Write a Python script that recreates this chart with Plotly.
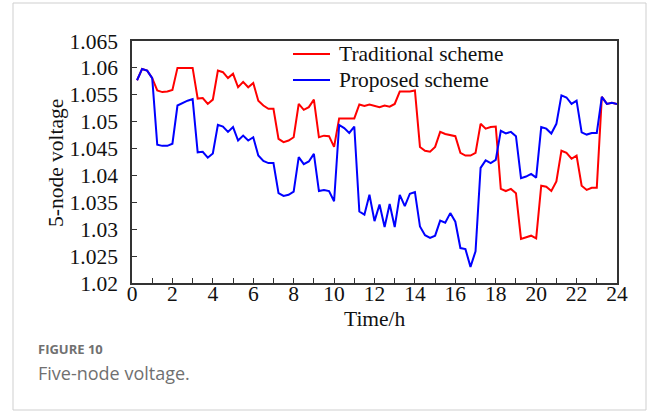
import plotly.graph_objects as go

time_h = [0.25 * (i + 1) for i in range(96)]

traditional = [
    1.0577, 1.0598, 1.0595, 1.0581, 1.0558, 1.0555, 1.0556, 1.0559,
    1.0600, 1.0600, 1.0600, 1.0600, 1.0543, 1.0544, 1.0533, 1.0541,
    1.0595, 1.0592, 1.0581, 1.0589, 1.0564, 1.0574, 1.0564, 1.0572,
    1.0539, 1.0530, 1.0524, 1.0524, 1.0468, 1.0462, 1.0465, 1.0471,
    1.0533, 1.0522, 1.0527, 1.0541, 1.0471, 1.0474, 1.0473, 1.0453,
    1.0506, 1.0506, 1.0507, 1.0506, 1.0532, 1.0529, 1.0532, 1.0529,
    1.0527, 1.0530, 1.0528, 1.0533, 1.0556, 1.0556, 1.0556, 1.0558,
    1.0453, 1.0446, 1.0444, 1.0453, 1.0481, 1.0477, 1.0475, 1.0473,
    1.0442, 1.0437, 1.0437, 1.0442, 1.0496, 1.0487, 1.0490, 1.0491,
    1.0375, 1.0371, 1.0375, 1.0367, 1.0282, 1.0285, 1.0288, 1.0283,
    1.0381, 1.0379, 1.0371, 1.0389, 1.0446, 1.0442, 1.0431, 1.0437,
    1.0381, 1.0373, 1.0377, 1.0377, 1.0546, 1.0533, 1.0535, 1.0533,
]

proposed = [
    1.0577, 1.0598, 1.0595, 1.0581, 1.0457, 1.0455, 1.0455, 1.0459,
    1.0530, 1.0535, 1.0539, 1.0542, 1.0443, 1.0444, 1.0433, 1.0441,
    1.0494, 1.0491, 1.0481, 1.0490, 1.0465, 1.0474, 1.0465, 1.0471,
    1.0437, 1.0427, 1.0423, 1.0423, 1.0367, 1.0362, 1.0364, 1.0370,
    1.0434, 1.0421, 1.0426, 1.0440, 1.0371, 1.0373, 1.0371, 1.0352,
    1.0494, 1.0488, 1.0479, 1.0491, 1.0333, 1.0327, 1.0364, 1.0315,
    1.0346, 1.0304, 1.0347, 1.0304, 1.0364, 1.0343, 1.0366, 1.0369,
    1.0305, 1.0289, 1.0284, 1.0288, 1.0316, 1.0312, 1.0330, 1.0314,
    1.0265, 1.0263, 1.0230, 1.0259, 1.0414, 1.0428, 1.0423, 1.0429,
    1.0483, 1.0478, 1.0481, 1.0473, 1.0395, 1.0398, 1.0403, 1.0396,
    1.0490, 1.0487, 1.0478, 1.0496, 1.0549, 1.0545, 1.0533, 1.0539,
    1.0480, 1.0476, 1.0479, 1.0479, 1.0546, 1.0533, 1.0535, 1.0533,
]

series_names = ["Traditional scheme", "Proposed scheme"]
series_colors = ["#ff0000", "#0000ff"]

x_ticks = list(range(0, 25, 2))
y_ticks = [1.02, 1.025, 1.03, 1.035, 1.04, 1.045, 1.05, 1.055, 1.06, 1.065]
y_labels = ["1.02", "1.025", "1.03", "1.035", "1.04", "1.045", "1.05", "1.055", "1.06", "1.065"]

serif = "Liberation Serif, Times New Roman, serif"
FS = 21.5

fig = go.Figure()
for name, vals, col in zip(series_names, [traditional, proposed], series_colors):
    fig.add_trace(go.Scatter(x=time_h, y=vals, mode="lines", name=name,
                             line=dict(color=col, width=2), showlegend=False))

W, H = 658, 414
L, R, T, B = 132, 617, 41, 283
pw, ph = R - L, B - T


def px(x):
    return (x - L) / pw


def py(y):
    return (B - y) / ph


fig.update_layout(
    width=W, height=H,
    margin=dict(l=L, r=W - R, t=T, b=H - B),
    paper_bgcolor="white", plot_bgcolor="white",
    font=dict(family=serif, color="#111111", size=FS),
    showlegend=False,
    xaxis=dict(range=[0, 24], tickmode="array", tickvals=x_ticks, ticktext=[str(v) for v in x_ticks],
               ticks="inside", ticklen=5, tickwidth=1, tickcolor="#333",
               minor=dict(tickmode="linear", tick0=0, dtick=1, ticks="inside", ticklen=5, tickcolor="#333"),
               showline=True, linecolor="#333", linewidth=1.5, mirror=True,
               showgrid=False, zeroline=False, ticklabelstandoff=-10,
               tickfont=dict(family=serif, size=FS, color="#111")),
    yaxis=dict(range=[1.02, 1.065], tickmode="array", tickvals=y_ticks, ticktext=y_labels,
               ticks="inside", ticklen=5, tickwidth=1, tickcolor="#333",
               showline=True, linecolor="#333", linewidth=1.5, mirror=True,
               showgrid=False, zeroline=False, ticklabelstandoff=8,
               tickfont=dict(family=serif, size=FS, color="#111")),
)

# manual legend
for i, (name, col) in enumerate(zip(series_names, series_colors)):
    yy = py(54 + 26 * i)
    fig.add_shape(type="line", xref="paper", yref="paper", x0=px(293), x1=px(330), y0=yy, y1=yy,
                  line=dict(color=col, width=2))
    fig.add_annotation(xref="paper", yref="paper", x=px(337), y=yy, xanchor="left", yanchor="middle",
                       text=name, showarrow=False, font=dict(family=serif, size=FS, color="#111"))

fig.add_annotation(xref="paper", yref="paper", x=px(375), y=py(319), xanchor="center", yanchor="middle",
                   text="Time/h", showarrow=False, font=dict(family=serif, size=FS, color="#111"))
fig.add_annotation(xref="paper", yref="paper", x=px(56), y=py(163), xanchor="center", yanchor="middle",
                   text="5-node voltage", showarrow=False, textangle=-90,
                   font=dict(family=serif, size=FS, color="#111"))

# card border
fig.add_shape(type="rect", xref="paper", yref="paper",
              x0=px(13), x1=px(646), y0=py(410), y1=py(3),
              line=dict(color="#cfcfcf", width=1), fillcolor="rgba(0,0,0,0)", layer="below")

fig.add_annotation(xref="paper", yref="paper", x=px(36), y=py(349), xanchor="left", yanchor="middle",
                   text="<b>FIGURE 10</b>", showarrow=False,
                   font=dict(family="Open Sans, Noto Sans, sans-serif", size=13, color="#707070"))
fig.add_annotation(xref="paper", yref="paper", x=px(36), y=py(373), xanchor="left", yanchor="middle",
                   text="Five-node voltage.", showarrow=False,
                   font=dict(family="Open Sans, Noto Sans, sans-serif", size=18, color="#707070"))

fig.write_html("out.html")
